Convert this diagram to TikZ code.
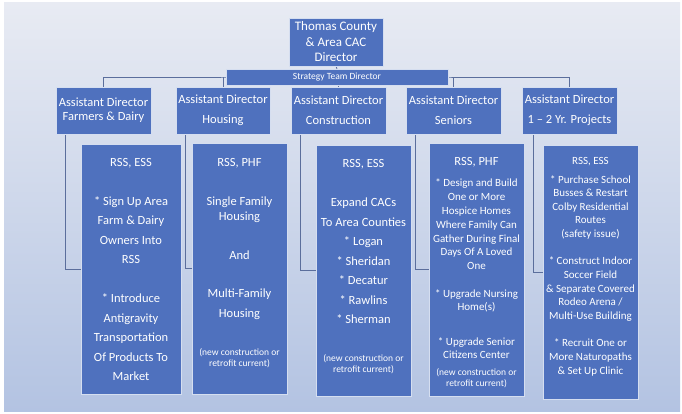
\documentclass[tikz,border=0pt]{standalone}
\usepackage{fontspec}
\setmainfont{Carlito}
\usetikzlibrary{backgrounds}
\definecolor{boxblue}{HTML}{4F71BE}
\definecolor{boxedge}{HTML}{D5DEF0}
\definecolor{linecol}{HTML}{5B6E9C}
\definecolor{bgtop}{HTML}{E8EBF3}
\definecolor{bgbot}{HTML}{B3C3E2}
\begin{document}
\begin{tikzpicture}[x=1pt,y=-1pt,
  box/.style={fill=boxblue, draw=boxedge, line width=0.7pt, text=white, align=center, inner sep=0pt},
  txt/.style={text=white, align=center, inner sep=0pt},
  conn/.style={draw=linecol, line width=0.9pt},
  fbig/.style={font=\fontsize{12.5}{19.5}\selectfont},
  fmid/.style={font=\fontsize{11}{13.7}\selectfont},
  fsmall/.style={font=\fontsize{9.5}{11}\selectfont}]
\useasboundingbox (0,0) rectangle (682,414);

% top level
\node[box, minimum width=94pt, minimum height=48pt, font=\fontsize{13}{15.5}\selectfont] (dir) at (336,42) {Thomas County\\\& Area CAC\\Director};
\node[box, minimum width=222pt, minimum height=16pt, font=\fontsize{9.5}{11}\selectfont] (bar) at (337,77) {Strategy Team Director};

% assistant directors
\node[box, minimum width=95pt, minimum height=47pt, font=\fontsize{12.5}{14}\selectfont] (a1) at (103.5,110.5) {Assistant Director\\Farmers \& Dairy};
\node[box, minimum width=94pt, minimum height=47pt, font=\fontsize{12.5}{20}\selectfont] (a2) at (223,110.5) {Assistant Director\\Housing};
\node[box, minimum width=95pt, minimum height=47pt, font=\fontsize{12.5}{20}\selectfont] (a3) at (338.5,110.5) {Assistant Director\\Construction};
\node[box, minimum width=95pt, minimum height=47pt, font=\fontsize{12.5}{20}\selectfont] (a4) at (453.5,110.5) {Assistant Director\\Seniors};
\node[box, minimum width=95pt, minimum height=47pt, font=\fontsize{12.5}{20}\selectfont] (a5) at (569.5,110.5) {Assistant Director\\1 – 2 Yr. Projects};

% detail boxes
\node[box, minimum width=100pt, minimum height=250pt] (d1) at (131,269) {};
\node[box, minimum width=95pt, minimum height=251pt] (d2) at (239.5,268.5) {};
\node[box, minimum width=95pt, minimum height=251pt] (d3) at (363.5,270.5) {};
\node[box, minimum width=95pt, minimum height=253pt] (d4) at (476.5,269.5) {};
\node[box, minimum width=95pt, minimum height=254pt] (d5) at (590.5,272) {};

% texts of D1
\node[txt, fbig] (d1t) at (131,269.5) {RSS, ESS\\[19.5pt]* Sign Up Area\\Farm \& Dairy\\Owners Into\\RSS\\[19.5pt]* Introduce\\Antigravity\\Transportation\\Of Products To\\Market};

% texts of D2
\node[txt, fbig] (d2h) at (239.5,163) {RSS, PHF};
\node[txt, font=\fontsize{12.5}{15}\selectfont] (d2a) at (239.5,210) {Single Family\\Housing};
\node[txt, fbig] (d2b) at (239.5,255) {And};
\node[txt, font=\fontsize{12.5}{20}\selectfont] (d2c) at (239.5,304.5) {Multi-Family\\Housing};
\node[txt, fsmall] (d2s) at (239.5,358.5) {(new construction or\\retrofit current)};

% texts of D3
\node[txt, fbig] (d3t) at (363.5,241.5) {RSS, ESS\\[19.5pt]Expand CACs\\To Area Counties\\* Logan\\* Sheridan\\* Decatur\\* Rawlins\\* Sherman};
\node[txt, fsmall] (d3s) at (363.5,364.5) {(new construction or\\retrofit current)};

% texts of D4
\node[txt, fbig] (d4h) at (476.5,162) {RSS, PHF};
\node[txt, font=\fontsize{11}{13.8}\selectfont] (d4a) at (476.5,224.5) {* Design and Build\\One or More\\Hospice Homes\\Where Family Can\\Gather During Final\\Days Of A Loved\\One};
\node[txt, font=\fontsize{11}{12.5}\selectfont] (d4b) at (476.5,301) {* Upgrade Nursing\\Home(s)};
\node[txt, font=\fontsize{11}{12.5}\selectfont] (d4c) at (476.5,348) {* Upgrade Senior\\Citizens Center};
\node[txt, fsmall] (d4s) at (476.5,378) {(new construction or\\retrofit current)};

% texts of D5
\node[txt, fmid] (d5h) at (590.5,162) {RSS, ESS};
\node[txt, font=\fontsize{11}{13.64}\selectfont] (d5t) at (590.5,275.5) {* Purchase School\\Busses \& Restart\\Colby Residential\\Routes\\(safety issue)\\[13.64pt]* Construct Indoor\\Soccer Field\\\& Separate Covered\\Rodeo Arena /\\Multi-Use Building\\[13.64pt]* Recruit One or\\More Naturopaths\\\& Set Up Clinic};

\begin{pgfonlayer}{background}
  \fill[white] (0,0) rectangle (682,414);
  \shade[top color=bgtop, bottom color=bgbot] (4,3) rectangle (680,411);
  \coordinate (hub) at (336,77);
  \draw[conn] (dir.south) -- (bar.north);
  \draw[conn] (a1.north) |- (hub) -| (a5.north);
  \draw[conn] (a2.north) -- (a2.north |- hub);
  \draw[conn] (a3.north) -- (a3.north |- hub);
  \draw[conn] (a4.north) -- (a4.north |- hub);
  \draw[conn] ([xshift=10pt]a1.south west) |- (d1.west);
  \draw[conn] ([xshift=10pt]a2.south west) |- (d2.west);
  \draw[conn] ([xshift=10pt]a3.south west) |- (d3.west);
  \draw[conn] ([xshift=10pt]a4.south west) |- (d4.west);
  \draw[conn] ([xshift=12pt]a5.south west) |- (d5.west);
\end{pgfonlayer}
\end{tikzpicture}
\end{document}
